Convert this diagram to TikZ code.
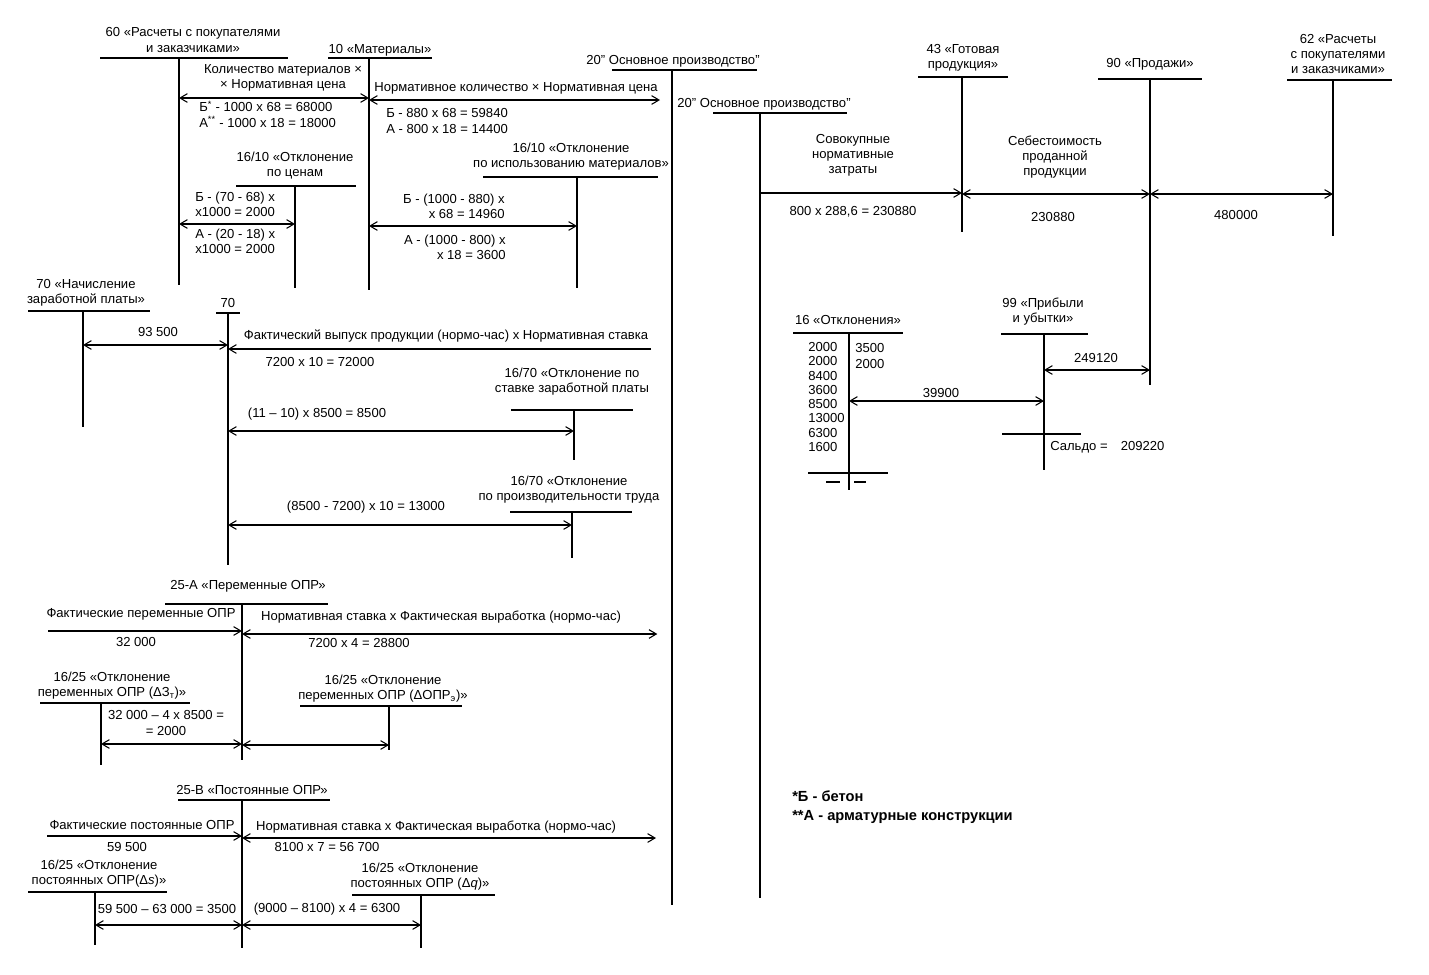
\documentclass[tikz,border=0pt]{standalone}
\usepackage{fontspec}
\setmainfont{Liberation Sans}
\usetikzlibrary{arrows.meta}

\begin{document}
\begin{tikzpicture}[
    x=0.75pt, y=-0.75pt,
    tacc/.style={line width=1.2pt},
    both/.style={line width=0.8pt, {Straight Barb[length=5.5pt,width=6.5pt]}-{Straight Barb[length=5.5pt,width=6.5pt]}},
    fwd/.style={line width=0.8pt, -{Straight Barb[length=5.5pt,width=6.5pt]}},
    lbl/.style={inner sep=0pt, align=center, font=\fontsize{9.8}{11.3}\selectfont},
    lftlbl/.style={lbl, align=left, anchor=west},
    rgtlbl/.style={lbl, align=right, anchor=east},
]
\useasboundingbox (0,0) rectangle (1429,975);

% Accounts
\node[lbl] (t60) at (193,40) {60 «Расчеты с покупателями\\и заказчиками»};
\coordinate (a60) at (179,58);
\draw[tacc] (100,58) -- (288,58) (a60) -- (179,285);

\node[lbl] (t10) at (380,50) {10 «Материалы»};
\coordinate (a10) at (369,58);
\draw[tacc] (328,58) -- (432,58) (a10) -- (369,290);

\node[lbl] (t20a) at (673,61) {20” Основное производство”};
\coordinate (a20a) at (672,70);
\draw[tacc] (612,70) -- (757,70) (a20a) -- (672,905);

\node[lbl] (t20b) at (764,104) {20” Основное производство”};
\coordinate (a20b) at (760,113);
\draw[tacc] (713,113) -- (847,113) (a20b) -- (760,898);

\node[lbl] (t43) at (963,58) {43 «Готовая\\продукция»};
\coordinate (a43) at (962,77);
\draw[tacc] (918,77) -- (1008,77) (a43) -- (962,232);

\node[lbl] (t90) at (1150,64) {90 «Продажи»};
\coordinate (a90) at (1150,79);
\draw[tacc] (1098,79) -- (1202,79) (a90) -- (1150,385);

\node[lbl] (t62) at (1338,54) {62 «Расчеты\\с покупателями\\и заказчиками»};
\coordinate (a62) at (1333,80);
\draw[tacc] (1287,80) -- (1392,80) (a62) -- (1333,236);

\node[lbl] (t1610p) at (295,166) {16/10 «Отклонение\\по ценам};
\coordinate (a1610p) at (295,186);
\draw[tacc] (236,186) -- (356,186) (a1610p) -- (295,288);

\node[lbl] (t1610u) at (571,157) {16/10 «Отклонение\\по использованию материалов»};
\coordinate (a1610u) at (577,177);
\draw[tacc] (483,177) -- (658,177) (a1610u) -- (577,288);

\node[lbl] (t70a) at (86,293) {70 «Начисление\\заработной платы»};
\coordinate (a70a) at (83,311);
\draw[tacc] (28,311) -- (150,311) (a70a) -- (83,427);

\node[lbl] (t70b) at (228,303) {70};
\coordinate (a70b) at (228,313);
\draw[tacc] (216,313) -- (240,313) (a70b) -- (228,565);

\node[lbl] (t1670r) at (572,382) {16/70 «Отклонение по\\ставке заработной платы};
\coordinate (a1670r) at (574,410);
\draw[tacc] (511,410) -- (633,410) (a1670r) -- (574,460);

\node[lbl] (t1670p) at (569,490) {16/70 «Отклонение\\по производительности труда};
\coordinate (a1670p) at (572,512);
\draw[tacc] (510,512) -- (632,512) (a1670p) -- (572,558);

\node[lbl] (t25a) at (248,586) {25-А «Переменные ОПР»};
\coordinate (a25a) at (242,604);
\draw[tacc] (165,604) -- (328,604) (a25a) -- (242,760);

\node[lbl] (t1625t) at (112,686) {16/25 «Отклонение\\переменных ОПР (ΔЗ\textsubscript{т})»};
\coordinate (a1625t) at (101,703);
\draw[tacc] (40,703) -- (190,703) (a1625t) -- (101,765);

\node[lbl] (t1625e) at (383,689) {16/25 «Отклонение\\переменных ОПР (ΔОПР\textsubscript{э})»};
\coordinate (a1625e) at (389,706);
\draw[tacc] (300,706) -- (462,706) (a1625e) -- (389,750);

\node[lbl] (t25b) at (252,790) {25-В «Постоянные ОПР»};
\coordinate (a25b) at (242,800);
\draw[tacc] (178,800) -- (330,800) (a25b) -- (242,948);

\node[lbl] (t1625s) at (99,874) {16/25 «Отклонение\\постоянных ОПР(Δ\textit{s})»};
\coordinate (a1625s) at (95,892);
\draw[tacc] (28,892) -- (167,892) (a1625s) -- (95,945);

\node[lbl] (t1625q) at (420,877) {16/25 «Отклонение\\постоянных ОПР (Δ\textit{q})»};
\coordinate (a1625q) at (421,895);
\draw[tacc] (352,895) -- (495,895) (a1625q) -- (421,948);

\node[lbl] (t16) at (848,320) {16 «Отклонения»};
\coordinate (a16) at (849,333);
\draw[tacc] (793,333) -- (903,333) (a16) -- (849,490);
\draw[tacc] (808,473) -- (888,473);
\draw[tacc] (826,482) -- (840,482) (854,482) -- (866,482);

\node[lbl] (t99) at (1043,312) {99 «Прибыли\\и убытки»};
\coordinate (a99) at (1044,334);
\draw[tacc] (1001,334) -- (1088,334) (a99) -- (1044,470);
\draw[tacc] (1002,434) -- (1081,434);

% Materials
\draw[both] (a60 |- 0,98) -- (a10 |- 0,98);
\node[lbl] (matqty) at (283,78) {Количество материалов ×\\× Нормативная цена};
\node[lftlbl] (matbuy) at (199,114) {Б\textsuperscript{*} - 1000 x 68 = 68000\\А\textsuperscript{**} - 1000 x 18 = 18000};
\draw[both, shorten >=9pt] (a10 |- 0,100) -- (a20a |- 0,100);
\node[lbl] (matnorm) at (516,88) {Нормативное количество × Нормативная цена};
\node[lftlbl] (matuse) at (386,121) {Б - 880 x 68 = 59840\\А - 800 x 18 = 14400};
\draw[both] (a60 |- 0,224) -- (a1610p |- 0,224);
\node[lftlbl] (pricea) at (195,204) {Б - (70 - 68) x\\x1000 = 2000};
\node[lftlbl] (priceb) at (195,241) {А - (20 - 18) x\\x1000 = 2000};
\draw[both] (a10 |- 0,226) -- (a1610u |- 0,226);
\node[rgtlbl] (usea) at (505,206) {Б - (1000 - 880) x\\x 68 = 14960};
\node[rgtlbl] (useb) at (506,247) {А - (1000 - 800) x\\x 18 = 3600};

% Labour
\draw[both] (a70a |- 0,345) -- (a70b |- 0,345);
\node[lbl] (wage) at (158,332) {93 500};
\draw[fwd, shorten <=15.75pt] (a20a |- 0,349) -- (a70b |- 0,349);
\node[lbl] (outnorm) at (446,336) {Фактический выпуск продукции (нормо-час) x Нормативная ставка};
\node[lbl] (outval) at (320,362) {7200 x 10 = 72000};
\draw[both] (a70b |- 0,431) -- (a1670r |- 0,431);
\node[lbl] (rateval) at (317,414) {(11 – 10) x 8500 = 8500};
\draw[both] (a70b |- 0,525) -- (a1670p |- 0,525);
\node[lbl] (prodval) at (366,507) {(8500 - 7200) x 10 = 13000};

% Variable overhead
\coordinate (s25a) at (48,631);
\draw[fwd] (s25a) -- (a25a |- s25a);
\node[lbl] (varact) at (141,614) {Фактические переменные ОПР};
\node[lbl] (varval) at (136,642) {32 000};
\draw[both, shorten >=11pt] (a25a |- 0,634) -- (a20a |- 0,634);
\node[lbl] (varnorm) at (441,617) {Нормативная ставка x Фактическая выработка (нормо-час)};
\node[lbl] (varnval) at (359,643) {7200 x 4 = 28800};
\draw[both] (a1625t |- 0,744) -- (a25a |- 0,744);
\node[lbl] (vareff) at (166,723) {32 000 – 4 x 8500 =\\= 2000};
\draw[both] (a25a |- 0,745) -- (a1625e |- 0,745);

% Fixed overhead
\coordinate (s25b) at (47,836);
\draw[fwd] (s25b) -- (a25b |- s25b);
\node[lbl] (fixact) at (142,825) {Фактические постоянные ОПР};
\node[lbl] (fixval) at (127,847) {59 500};
\draw[both, shorten >=12pt] (a25b |- 0,838) -- (a20a |- 0,838);
\node[lbl] (fixnorm) at (436,827) {Нормативная ставка x Фактическая выработка (нормо-час)};
\node[lbl] (fixnval) at (327,847) {8100 x 7 = 56 700};
\draw[both] (a1625s |- 0,925) -- (a25b |- 0,925);
\node[lbl] (fixs) at (167,909) {59 500 – 63 000 = 3500};
\draw[both] (a25b |- 0,925) -- (a1625q |- 0,925);
\node[lbl] (fixq) at (327,909) {(9000 – 8100) x 4 = 6300};

% Output and sales
\draw[fwd] (a20b |- 0,193) -- (a43 |- 0,193);
\node[lbl] (totnorm) at (853,155) {Совокупные\\нормативные\\затраты};
\node[lbl] (totval) at (853,212) {800 x 288,6 = 230880};
\draw[both] (a43 |- 0,194) -- (a90 |- 0,194);
\node[lbl] (cogs) at (1055,157) {Себестоимость\\проданной\\продукции};
\node[lbl] (cogsval) at (1053,217) {230880};
\draw[both] (a90 |- 0,194) -- (a62 |- 0,194);
\node[lbl] (sales) at (1236,215) {480000};

% Variances and result
\node[lftlbl, font=\fontsize{9.8}{10.7}\selectfont] (devdr) at (808,397) {2000\\2000\\8400\\3600\\8500\\13000\\6300\\1600};
\node[lftlbl, font=\fontsize{9.8}{12}\selectfont] (devcr) at (855,356) {3500\\2000};
\draw[both] (a16 |- 0,401) -- (a99 |- 0,401);
\node[lbl] (devval) at (941,393) {39900};
\draw[both] (a99 |- 0,370) -- (a90 |- 0,370);
\node[lbl] (profit) at (1096,358) {249120};
\node[lftlbl] (saldo) at (1050,447) {Сальдо =\quad 209220};

% Legend
\node[lftlbl, font=\fontsize{11}{14}\selectfont\bfseries] (notes) at (792,807) {*Б - бетон\\**А - арматурные конструкции};

\end{tikzpicture}
\end{document}
